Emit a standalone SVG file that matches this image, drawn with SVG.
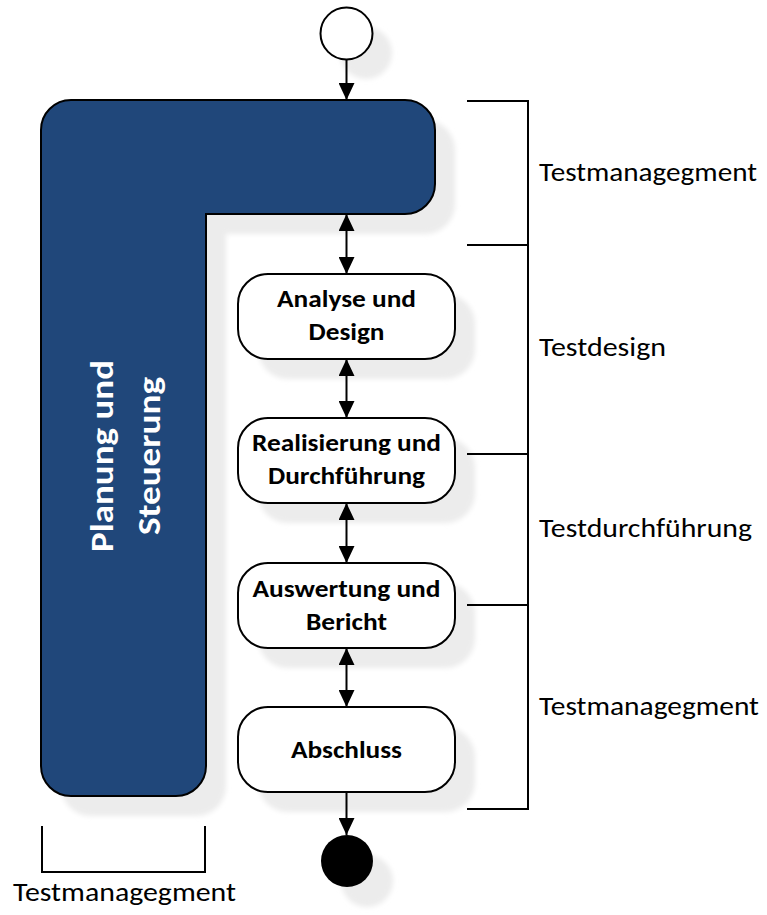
<svg xmlns="http://www.w3.org/2000/svg" width="767" height="915" viewBox="0 0 767 915">
  <style>
    .edge { fill: none; stroke: #000; stroke-width: 2; }
    .box { fill: #fff; stroke: #000; stroke-width: 2; }
    .shadow { fill: #ececec; filter: url(#soft); }
    .lbl { font-family: "Carlito", "Lato", "Liberation Sans", sans-serif; font-size: 26px; fill: #000; }
    .act { font-family: "Carlito", "Lato", "Liberation Sans", sans-serif; font-weight: bold; font-size: 25px; fill: #000; text-anchor: middle; }
    .big { font-family: "Carlito", "Lato", "Liberation Sans", sans-serif; font-weight: bold; font-size: 33px; fill: #fff; text-anchor: middle; }
    .brk { fill: none; stroke: #000; stroke-width: 2; }
  </style>
  <defs>
    <filter id="soft" x="-20%" y="-20%" width="140%" height="140%">
      <feGaussianBlur stdDeviation="2.5"/>
    </filter>
    <marker id="head" markerUnits="userSpaceOnUse" markerWidth="17" markerHeight="16" viewBox="0 0 17 16" refX="17" refY="8" orient="auto-start-reverse">
      <path d="M0,0 L17,8 L0,16 Z" fill="#000"/>
    </marker>
    <path id="lshape" d="M71,100 H405 A30,30 0 0 1 435,130 V184 A30,30 0 0 1 405,214 H206 V766 A30,30 0 0 1 176,796 H71 A30,30 0 0 1 41,766 V130 A30,30 0 0 1 71,100 Z"/>
    <rect id="act" x="238" y="0" width="217" height="85" rx="30" ry="30"/>
  </defs>

  <!-- drop shadows -->
  <g id="shadows">
    <circle class="shadow" cx="366" cy="53" r="26"/>
    <use class="shadow" href="#lshape" transform="translate(20,20)"/>
    <use class="shadow" href="#act" transform="translate(20,294)"/>
    <use class="shadow" href="#act" transform="translate(20,438)"/>
    <use class="shadow" href="#act" transform="translate(20,583)"/>
    <use class="shadow" href="#act" transform="translate(20,727)"/>
    <circle class="shadow" cx="367" cy="881" r="26"/>
  </g>

  <!-- connectors -->
  <g id="connectors">
    <line class="edge" x1="346.5" y1="60" x2="346.5" y2="100" marker-end="url(#head)"/>
    <line class="edge" x1="346.5" y1="214" x2="346.5" y2="274" marker-start="url(#head)" marker-end="url(#head)"/>
    <line class="edge" x1="346.5" y1="359" x2="346.5" y2="418" marker-start="url(#head)" marker-end="url(#head)"/>
    <line class="edge" x1="346.5" y1="503" x2="346.5" y2="563" marker-start="url(#head)" marker-end="url(#head)"/>
    <line class="edge" x1="346.5" y1="648" x2="346.5" y2="707" marker-start="url(#head)" marker-end="url(#head)"/>
    <line class="edge" x1="346.5" y1="792" x2="346.5" y2="835" marker-end="url(#head)"/>
  </g>

  <g id="start">
    <circle cx="346.5" cy="33.5" r="26" fill="#fff" stroke="#000" stroke-width="2"/>
  </g>

  <g id="planung">
    <use href="#lshape" fill="#20477a" stroke="#000" stroke-width="2"/>
    <g transform="translate(0,456) rotate(-90)">
      <text class="big" x="0" y="113" textLength="192" lengthAdjust="spacingAndGlyphs">Planung und</text>
      <text class="big" x="0" y="160" textLength="158" lengthAdjust="spacingAndGlyphs">Steuerung</text>
    </g>
  </g>

  <g id="analyse">
    <use class="box" href="#act" transform="translate(0,274)"/>
    <text class="act" x="346.5" y="307" textLength="139" lengthAdjust="spacingAndGlyphs">Analyse und</text>
    <text class="act" x="346.5" y="340" textLength="76" lengthAdjust="spacingAndGlyphs">Design</text>
  </g>

  <g id="realisierung">
    <use class="box" href="#act" transform="translate(0,418)"/>
    <text class="act" x="346.5" y="451" textLength="189" lengthAdjust="spacingAndGlyphs">Realisierung und</text>
    <text class="act" x="346.5" y="484" textLength="157" lengthAdjust="spacingAndGlyphs">Durchführung</text>
  </g>

  <g id="auswertung">
    <use class="box" href="#act" transform="translate(0,563)"/>
    <text class="act" x="346.5" y="597" textLength="188" lengthAdjust="spacingAndGlyphs">Auswertung und</text>
    <text class="act" x="346.5" y="630" textLength="81" lengthAdjust="spacingAndGlyphs">Bericht</text>
  </g>

  <g id="abschluss">
    <use class="box" href="#act" transform="translate(0,707)"/>
    <text class="act" x="346.5" y="758" textLength="111" lengthAdjust="spacingAndGlyphs">Abschluss</text>
  </g>

  <g id="end">
    <circle cx="347" cy="861" r="26" fill="#000"/>
  </g>

  <!-- phase brackets -->
  <g id="phases">
    <path class="brk" d="M467,101 H528 V809 H467 M467,245 H528 M467,454 H528 M467,605 H528"/>
    <text class="lbl" x="539" y="181" textLength="218" lengthAdjust="spacingAndGlyphs">Testmanagegment</text>
    <text class="lbl" x="539" y="356" textLength="127" lengthAdjust="spacingAndGlyphs">Testdesign</text>
    <text class="lbl" x="539" y="537" textLength="213" lengthAdjust="spacingAndGlyphs">Testdurchführung</text>
    <text class="lbl" x="539" y="715" textLength="220" lengthAdjust="spacingAndGlyphs">Testmanagegment</text>
  </g>

  <g id="phase-left">
    <path class="brk" d="M42,826 V872 H205 V826"/>
    <text class="lbl" x="13" y="901" textLength="223" lengthAdjust="spacingAndGlyphs">Testmanagegment</text>
  </g>
</svg>
